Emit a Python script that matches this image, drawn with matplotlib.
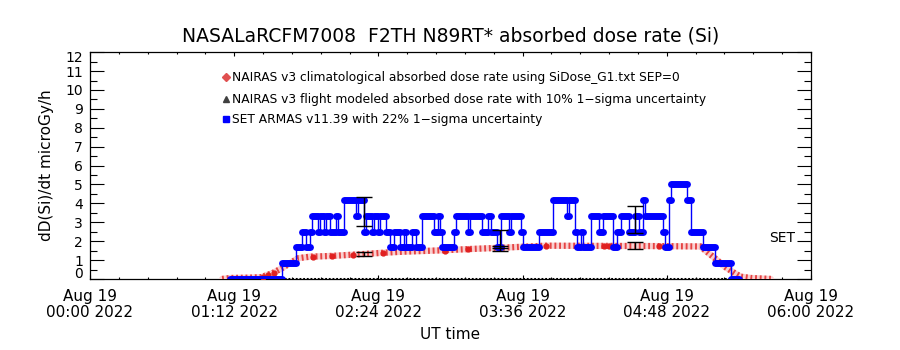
import matplotlib
matplotlib.use("Agg")
import matplotlib.pyplot as plt
from matplotlib.ticker import MultipleLocator
from matplotlib.transforms import ScaledTranslation

# SET count quantum (microGy/h per count level)
SET_STEP = 0.8333

# NAIRAS climatological dose rate along the flight (minutes after 00:00 UT)
clim_time = [66, 70, 80, 86, 88, 91, 96, 100, 104, 110, 116, 121, 137, 147,
             156, 177, 189, 205, 228, 250, 280, 305, 307, 312, 317, 322, 325, 330, 340]
clim_rate = [0.0, 0.05, 0.07, 0.1, 0.2, 0.3, 0.58, 0.84, 1.1, 1.18, 1.2, 1.22, 1.32, 1.39,
             1.44, 1.52, 1.58, 1.65, 1.76, 1.75, 1.74, 1.72, 1.53, 1.1, 0.65, 0.3, 0.12, 0.05, 0.0]

# climatological sample points shown as dots
clim_dot_time = [86.5, 89, 92, 111.5, 121, 131.5, 146.5, 177.5, 189, 227.5, 256.5, 259, 284]
clim_dot_rate = [0.12, 0.2, 0.32, 1.18, 1.22, 1.27, 1.39, 1.46, 1.58, 1.76, 1.74, 1.74, 1.74]

# SET ARMAS readings as runs: start minute, end minute, count level
set_start = [70, 96, 103, 106, 108, 110, 111, 114, 115, 117, 118, 120, 123, 124, 127, 133,
             134, 137, 138, 141, 142, 144, 145, 148, 150, 152, 155, 157, 158, 161, 163, 166,
             172, 174, 175, 176, 182, 183, 189, 190, 196, 199, 200, 203, 205, 209, 210, 215,
             216, 224, 231, 238, 239, 242, 243, 245, 246, 250, 254, 256, 261, 263, 265, 269,
             272, 274, 276, 277, 286, 287, 289, 290, 298, 300, 306, 312, 320]
set_end = set_start[1:] + [324]
set_level = [0, 1, 2, 3, 2, 3, 4, 3, 4, 3, 4, 3, 4, 3, 5, 4,
             5, 3, 4, 3, 4, 3, 4, 3, 2, 3, 2, 3, 2, 3, 2, 4,
             3, 4, 3, 2, 3, 4, 3, 4, 3, 4, 3, 2, 4, 3, 4, 3,
             2, 3, 5, 4, 5, 3, 2, 3, 2, 4, 3, 4, 2, 3, 4, 3,
             4, 3, 5, 4, 3, 2, 5, 6, 5, 3, 2, 1, 0]

# 1-sigma error bars: SET (22%) and NAIRAS flight model (10%)
err_time = [137, 204.5, 272]
set_err_mid = [3.57, 2.12, 3.14]
set_err_half = [0.78, 0.47, 0.72]
model_err_mid = [1.33, 1.62, 1.77]
model_err_half = [0.12, 0.12, 0.18]
model_span = [66, 340]

x_ticks = [0, 72, 144, 216, 288, 360]
x_labels = ["Aug 19\n00:00 2022", "Aug 19\n01:12 2022", "Aug 19\n02:24 2022",
            "Aug 19\n03:36 2022", "Aug 19\n04:48 2022", "Aug 19\n06:00 2022"]

legend_labels = [
    "NAIRAS v3 climatological absorbed dose rate using SiDose_G1.txt SEP=0",
    "NAIRAS v3 flight modeled absorbed dose rate with 10% 1\u2212sigma uncertainty",
    "SET ARMAS v11.39 with 22% 1\u2212sigma uncertainty",
]

BLUE = "#0000ff"
RED = "#e02020"

plt.rcParams["font.family"] = ["DejaVu Sans"]

fig = plt.figure(figsize=(9, 3.5), dpi=100)
ax = fig.add_axes([0.1, 0.203, 0.801, 0.648])

# modeled series sitting on the baseline
ax.plot(model_span, [0.02, 0.02], color="black", lw=2.2, ls=(0, (0.6, 0.6)), zorder=2)

# climatological band: pale base with a fine red dash pattern on top
ax.plot(clim_time, clim_rate, color="#f9d0d0", lw=4.5, solid_capstyle="round", zorder=3)
ax.plot(clim_time, clim_rate, color=RED, lw=4.5, ls=(0, (0.3, 0.45)), alpha=0.8, zorder=3)
ax.plot(clim_dot_time, clim_dot_rate, "o", color=RED, ms=3.5, zorder=4)

# SET runs: thick bars for repeated readings, thin trace joining them
trace_t, trace_v = [], []
for t0, t1, k in zip(set_start, set_end, set_level):
    v = k * SET_STEP
    ax.plot([t0, t1], [v, v], color=BLUE, lw=5, solid_capstyle="round", zorder=5)
    trace_t += [t0, t1]
    trace_v += [v, v]
ax.plot(trace_t, trace_v, color=BLUE, lw=1, zorder=5)

ax.errorbar(err_time, set_err_mid, yerr=set_err_half, fmt="none", ecolor="black",
            elinewidth=1, capsize=5.5, capthick=1, zorder=6)
ax.errorbar(err_time, model_err_mid, yerr=model_err_half, fmt="none", ecolor="black",
            elinewidth=1, capsize=5.5, capthick=1, zorder=6)

ax.text(339, 2.17, "SET", fontsize=10, ha="left", va="center")

# legend drawn by hand, marker + text per row
leg_y = [0.89, 0.793, 0.705]
leg_marker = ["D", "^", "s"]
leg_color = ["#e05050", "#404040", BLUE]
for y, lab, m, c in zip(leg_y, legend_labels, leg_marker, leg_color):
    ax.plot([0.189], [y], ls="none", transform=ax.transAxes, marker=m,
            color=c, ms=4, mfc=c, clip_on=False)
    ax.text(0.197, y, lab, transform=ax.transAxes, fontsize=8.8, va="center", ha="left")

ax.set_xlim(0, 360)
ax.set_ylim(0, 12)
ax.set_xticks(x_ticks)
ax.set_xticklabels(x_labels, fontsize=11, linespacing=1.1)
ax.xaxis.set_minor_locator(MultipleLocator(14.4))
ax.set_yticks(range(0, 13))
ax.yaxis.set_minor_locator(MultipleLocator(0.5))
ax.tick_params(axis="y", which="major", direction="in", length=10, width=0.8,
               right=True, labelsize=10, pad=5)
ax.tick_params(axis="y", which="minor", direction="in", length=5, width=0.8, right=True)
ax.tick_params(axis="x", which="major", direction="in", length=3, width=0.8, top=True, pad=7)
ax.tick_params(axis="x", which="minor", direction="in", length=1.5, width=0.8, top=True)

# keep the end labels inside the axis span
ylabels = ax.get_yticklabels()
ylabels[0].set_transform(ylabels[0].get_transform()
                         + ScaledTranslation(0, 6 / 100, fig.dpi_scale_trans))
ylabels[-1].set_transform(ylabels[-1].get_transform()
                          + ScaledTranslation(0, -4 / 100, fig.dpi_scale_trans))
for s in ax.spines.values():
    s.set_linewidth(0.9)

ax.set_ylabel("dD(Si)/dt microGy/h", fontsize=11, labelpad=8)
ax.set_xlabel("UT time", fontsize=11, labelpad=5)
ax.set_title("NASALaRCFM7008  F2TH N89RT* absorbed dose rate (Si)", fontsize=13.5, pad=8)

fig.savefig("out.png", dpi=100)
